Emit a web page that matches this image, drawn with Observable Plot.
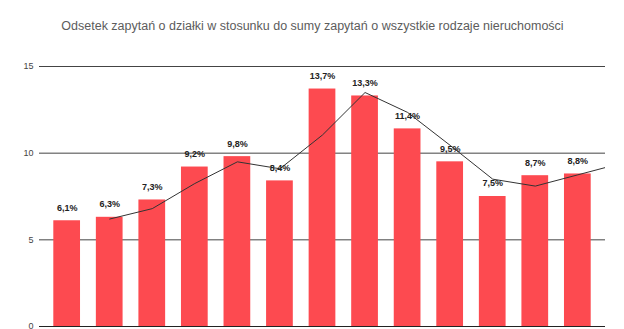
<!DOCTYPE html>
<html>
<head>
<meta charset="utf-8">
<script src="https://cdn.jsdelivr.net/npm/d3@7"></script>
<script src="https://cdn.jsdelivr.net/npm/@observablehq/plot@0.6"></script>
<style>
  html, body { margin: 0; padding: 0; background: #fff; }
  #wrap { width: 624px; height: 329px; overflow: hidden; font-family: "Liberation Sans", Arial, sans-serif; }
  #title { height: 40px; line-height: 53px; text-align: center; font-size: 12.5px; color: #5c5c5c; white-space: nowrap; padding-left: 1px; }
</style>
</head>
<body>
<div id="wrap">
  <div id="title">Odsetek zapytań o działki w stosunku do sumy zapytań o wszystkie rodzaje nieruchomości</div>
  <div id="chart"></div>
</div>
<script>
// Category positions (x-axis labels are cropped out of the reference)
const positions = [1, 2, 3, 4, 5, 6, 7, 8, 9, 10, 11, 12, 13];
// Bar values (%)
const values = [6.1, 6.3, 7.3, 9.2, 9.8, 8.4, 13.7, 13.3, 11.4, 9.5, 7.5, 8.7, 8.8];
// Trend line (moving average); last point runs past the frame
const trendPositions = [2, 3, 4, 5, 6, 7, 8, 9, 10, 11, 12, 13, 14];
const trendValues = [6.2, 6.8, 8.25, 9.5, 9.1, 11.05, 13.5, 12.35, 10.45, 8.5, 8.1, 8.75, 9.4];
// Y tick labels
const yTicks = [0, 5, 10, 15];

const bars = positions.map((p, i) => ({x: p, v: values[i]}));
const trend = trendPositions.map((p, i) => ({x: p, v: trendValues[i]}));
const half = 0.314;
const fmt = v => v.toFixed(1).replace(".", ",") + "%";

const chart = Plot.plot({
  width: 624,
  height: 289,
  marginTop: 26,
  marginBottom: 3,
  marginLeft: 39,
  marginRight: 19,
  style: {fontFamily: "Liberation Sans, Arial, sans-serif", background: "#fff"},
  x: {type: "linear", domain: [0.35, 13.65], axis: null},
  y: {domain: [0, 15], ticks: yTicks},
  marks: [
    Plot.ruleY(yTicks.filter(t => t > 0), {stroke: "#444", strokeWidth: 1}),
    Plot.rectY(bars, {x1: d => d.x - half, x2: d => d.x + half, y1: 0, y2: "v", fill: "#fd4a50"}),
    Plot.line(trend, {x: "x", y: "v", stroke: "#333", strokeWidth: 1, clip: true}),
    Plot.text(bars, {x: "x", y: "v", text: d => fmt(d.v), dy: -13, fontSize: 9, fontWeight: "bold", fill: "#222"}),
    Plot.ruleY([0], {stroke: "#222", strokeWidth: 1}),
    Plot.axisY(yTicks, {tickSize: 0, tickPadding: 6, fontSize: 9, fill: "#444", label: null})
  ]
});
document.getElementById("chart").appendChild(chart);
</script>
</body>
</html>
